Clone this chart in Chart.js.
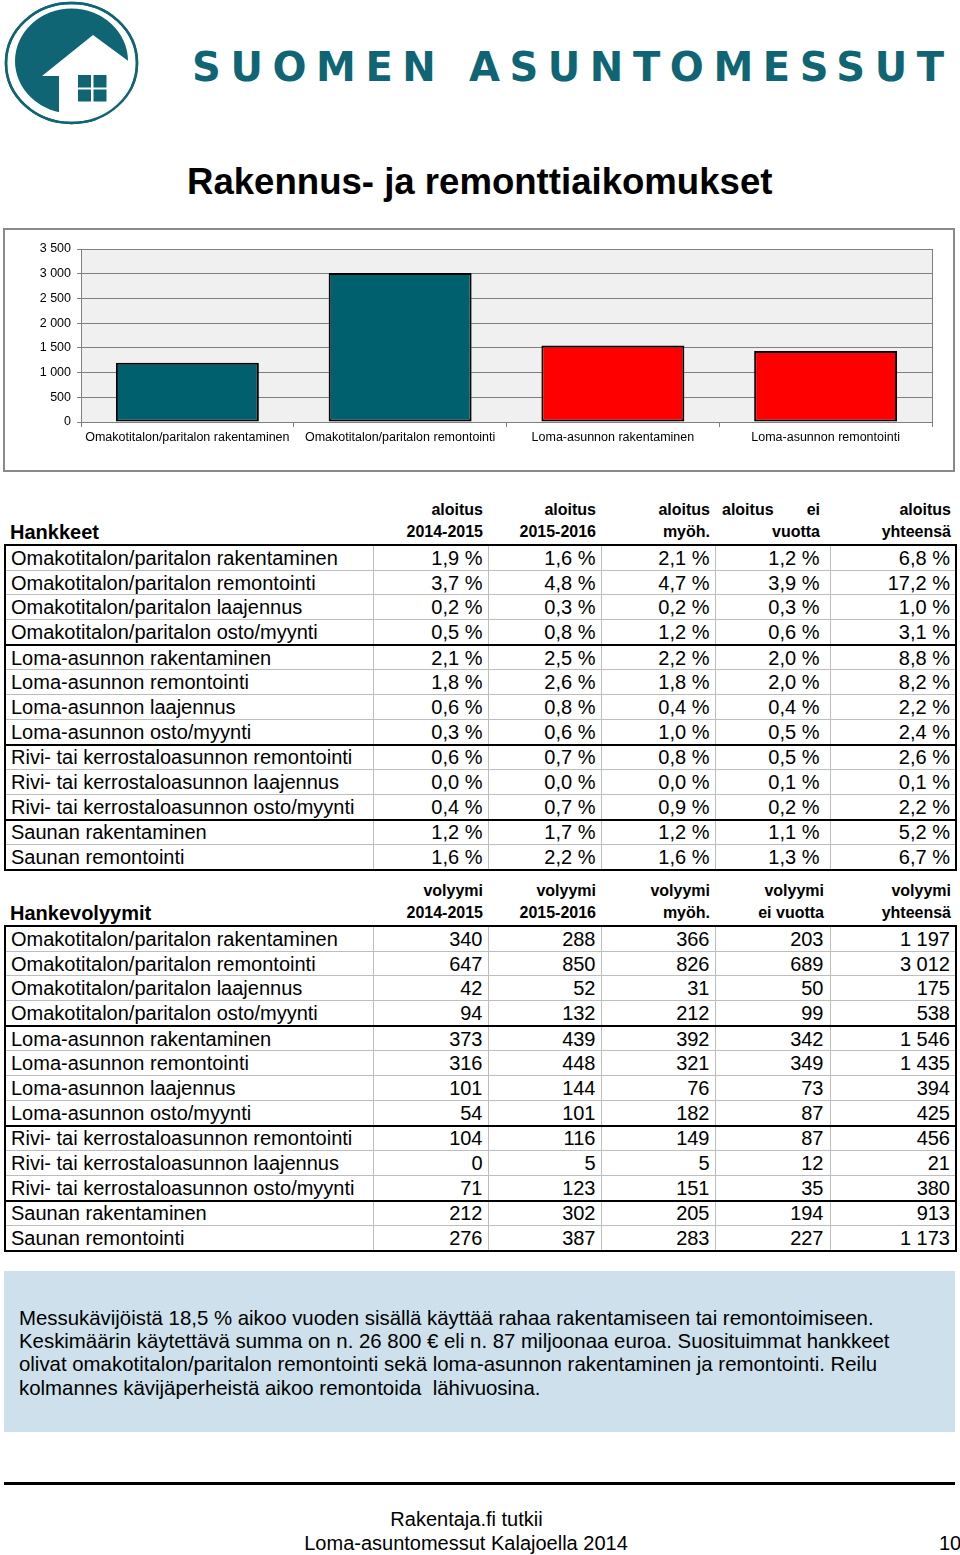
<!DOCTYPE html>
<html lang="fi">
<head>
<meta charset="UTF-8">
<title>Rakennus- ja remonttiaikomukset</title>
<script src="https://cdn.jsdelivr.net/npm/chart.js"></script>
<style>
    body {
        margin: 0;
        width: 960px;
        height: 1555px;
        position: relative;
        overflow: hidden;
        background: #fff;
        color: #000;
        font-family: 'Liberation Sans', Arial, sans-serif;
    }
    .abs { position: absolute; white-space: nowrap; }
    #title { left: 187px; top: 164px; font-size: 36.6px; font-weight: bold; line-height: 1; }
    #chartBox {
        position: absolute; left: 3px; top: 228px;
        width: 948px; height: 240px;
        border: 2px solid #8a8a8a;
    }
    table.data {
        position: absolute; left: 4px;
        border-collapse: collapse; table-layout: fixed;
        width: 951px;
    }
    table.data th {
        font-size: 16px; font-weight: bold; line-height: 22px;
        text-align: right; vertical-align: bottom;
        padding: 0 5px 1px 0; height: 39px;
    }
    table.data th.name { text-align: left; font-size: 20px; padding-left: 5px; }
    table.data td {
        font-size: 20px; line-height: 20px; height: 23.7px;
        padding: 0 5px 0 0; text-align: right;
        border: 1px solid #bdbdbd; white-space: nowrap;
    }
    table.data td.name { text-align: left; padding-left: 5px; }
    table.data tbody tr:first-child td { border-top: 2px solid #000; }
    table.data tbody tr:last-child td { border-bottom: 2px solid #000; }
    table.data tbody tr.groupEnd td { border-bottom: 2px solid #000; }
    table.data td:first-child { border-left: 2px solid #000; }
    table.data td:last-child { border-right: 2px solid #000; }
    #t1 { top: 499px; }
    #t2 { top: 880px; }
    #t1 td.c4, #t1 th.c4 { padding-right: 10px; }
    #t2 td.c4, #t2 th.c4 { padding-right: 6px; }
    th .split { display: flex; justify-content: space-between; padding-left: 7px; }
    #infoBox {
        position: absolute; left: 4px; top: 1271px;
        width: 936px; height: 125px;
        background: #cde0eb;
        padding: 36px 0 0 15px;
        font-size: 20.4px; line-height: 23.2px;
        white-space: nowrap;
    }
    #rule { position: absolute; left: 4px; top: 1482px; width: 951px; height: 3px; background: #000; }
    .foot { font-size: 20px; line-height: 1; }
</style>
</head>
<body>

<svg class="abs" style="left:0;top:0" width="960" height="130">
    <ellipse cx="71.5" cy="63" rx="65.5" ry="60" fill="none" stroke="#0f6573" stroke-width="2.5"/>
    <ellipse cx="71.5" cy="61" rx="56.5" ry="52.5" fill="#0f6573"/>
    <polygon points="42,76 93,35 131,63 131,120 59,120 59,76" fill="#fff"/>
    <ellipse cx="71.5" cy="63" rx="65.5" ry="60" fill="none" stroke="#0f6573" stroke-width="2.5"/>
    <rect x="78" y="75" width="13" height="12.5" fill="#0f6573"/>
    <rect x="93.5" y="75" width="13" height="12.5" fill="#0f6573"/>
    <rect x="78" y="89.5" width="13" height="12" fill="#0f6573"/>
    <rect x="93.5" y="89.5" width="13" height="12" fill="#0f6573"/>
    <text x="192" y="81" textLength="752" lengthAdjust="spacing"
          font-family="DejaVu Sans" font-weight="bold" font-size="40" fill="#0f6573">SUOMEN ASUNTOMESSUT</text>
</svg>

<div id="title" class="abs">Rakennus- ja remonttiaikomukset</div>

<div id="chartBox"><canvas id="volChart" width="948" height="240"></canvas></div>

<table id="t1" class="data"></table>
<table id="t2" class="data"></table>

<div id="infoBox">Messukävijöistä 18,5 % aikoo vuoden sisällä käyttää rahaa rakentamiseen tai remontoimiseen.<br>Keskimäärin käytettävä summa on n. 26 800 € eli n. 87 miljoonaa euroa. Suosituimmat hankkeet<br>olivat omakotitalon/paritalon remontointi sekä loma-asunnon rakentaminen ja remontointi. Reilu<br>kolmannes kävijäperheistä aikoo remontoida&nbsp; lähivuosina.</div>

<div id="rule"></div>
<div class="abs foot" style="left:0;width:933px;text-align:center;top:1509px">Rakentaja.fi tutkii</div>
<div class="abs foot" style="left:0;width:932px;text-align:center;top:1533px">Loma-asuntomessut Kalajoella 2014</div>
<div class="abs foot" style="left:939px;top:1533px">10</div>

<script>
    // kaavion tiedot
    const chartLabels = ['Omakotitalon/paritalon rakentaminen', 'Omakotitalon/paritalon remontointi',
                         'Loma-asunnon rakentaminen', 'Loma-asunnon remontointi'];
    const chartValues = [1197, 3012, 1546, 1435];
    const yTicks = [0, 500, 1000, 1500, 2000, 2500, 3000, 3500];

    // taulukoiden rivit
    const rowLabels = [
        'Omakotitalon/paritalon rakentaminen', 'Omakotitalon/paritalon remontointi',
        'Omakotitalon/paritalon laajennus', 'Omakotitalon/paritalon osto/myynti',
        'Loma-asunnon rakentaminen', 'Loma-asunnon remontointi',
        'Loma-asunnon laajennus', 'Loma-asunnon osto/myynti',
        'Rivi- tai kerrostaloasunnon remontointi', 'Rivi- tai kerrostaloasunnon laajennus',
        'Rivi- tai kerrostaloasunnon osto/myynti', 'Saunan rakentaminen', 'Saunan remontointi'
    ];
    const groupEnds = [3, 7, 10];

    // Hankkeet (%)
    const pct1415  = [1.9, 3.7, 0.2, 0.5, 2.1, 1.8, 0.6, 0.3, 0.6, 0.0, 0.4, 1.2, 1.6];
    const pct1516  = [1.6, 4.8, 0.3, 0.8, 2.5, 2.6, 0.8, 0.6, 0.7, 0.0, 0.7, 1.7, 2.2];
    const pctLater = [2.1, 4.7, 0.2, 1.2, 2.2, 1.8, 0.4, 1.0, 0.8, 0.0, 0.9, 1.2, 1.6];
    const pctNoYr  = [1.2, 3.9, 0.3, 0.6, 2.0, 2.0, 0.4, 0.5, 0.5, 0.1, 0.2, 1.1, 1.3];
    const pctTotal = [6.8, 17.2, 1.0, 3.1, 8.8, 8.2, 2.2, 2.4, 2.6, 0.1, 2.2, 5.2, 6.7];

    // Hankevolyymit
    const vol1415  = [340, 647, 42, 94, 373, 316, 101, 54, 104, 0, 71, 212, 276];
    const vol1516  = [288, 850, 52, 132, 439, 448, 144, 101, 116, 5, 123, 302, 387];
    const volLater = [366, 826, 31, 212, 392, 321, 76, 182, 149, 5, 151, 205, 283];
    const volNoYr  = [203, 689, 50, 99, 342, 349, 73, 87, 87, 12, 35, 194, 227];
    const volTotal = [1197, 3012, 175, 538, 1546, 1435, 394, 425, 456, 21, 380, 913, 1173];

    const pctHeads = [['aloitus', '2014-2015'], ['aloitus', '2015-2016'], ['aloitus', 'myöh.'],
                      ['aloitus|ei', 'vuotta'], ['aloitus', 'yhteensä']];
    const volHeads = [['volyymi', '2014-2015'], ['volyymi', '2015-2016'], ['volyymi', 'myöh.'],
                      ['volyymi', 'ei vuotta'], ['volyymi', 'yhteensä']];

    function fmtThousands(v) {
        return String(v).replace(/\B(?=(\d{3})+(?!\d))/g, ' ');
    }
    function fmtPct(v) {
        return v.toFixed(1).replace('.', ',') + ' %';
    }

    function buildTable(id, title, heads, columns, fmt) {
        const widths = [368, 115, 113, 114, 115, 126];
        let html = '<colgroup>' + widths.map(w => `<col style="width:${w}px">`).join('') + '</colgroup>';
        html += `<thead><tr><th class="name">${title}</th>`;
        heads.forEach((h, i) => {
            let top = h[0];
            if (top.includes('|')) {
                const parts = top.split('|');
                top = `<div class="split"><span>${parts[0]}</span><span>${parts[1]}</span></div>`;
            } else {
                top = top + '<br>';
            }
            html += `<th class="c${i + 1}">${top}${h[1]}</th>`;
        });
        html += '</tr></thead><tbody>';
        rowLabels.forEach((label, r) => {
            html += `<tr${groupEnds.includes(r) ? ' class="groupEnd"' : ''}><td class="name">${label}</td>`;
            columns.forEach((col, c) => {
                html += `<td class="c${c + 1}">${fmt(col[r])}</td>`;
            });
            html += '</tr>';
        });
        html += '</tbody>';
        document.getElementById(id).innerHTML = html;
    }

    buildTable('t1', 'Hankkeet', pctHeads, [pct1415, pct1516, pctLater, pctNoYr, pctTotal], fmtPct);
    buildTable('t2', 'Hankevolyymit', volHeads, [vol1415, vol1516, volLater, volNoYr, volTotal], fmtThousands);

    // harmaa piirtoalue ja oikea reuna
    const plotArea = {
        id: 'plotArea',
        beforeDraw(chart) {
            const { ctx, chartArea: a } = chart;
            ctx.save();
            ctx.fillStyle = '#f0f0f0';
            ctx.fillRect(a.left, a.top, a.right - a.left, a.bottom - a.top);
            ctx.restore();
        },
        afterDraw(chart) {
            const { ctx, chartArea: a } = chart;
            ctx.save();
            ctx.strokeStyle = '#7f7f7f';
            ctx.lineWidth = 1;
            ctx.beginPath();
            ctx.moveTo(a.right + 0.5, a.top);
            ctx.lineTo(a.right + 0.5, a.bottom);
            ctx.stroke();
            ctx.restore();
        }
    };

    Chart.defaults.font.family = "'Liberation Sans', Arial, sans-serif";
    Chart.defaults.font.size = 12.5;
    Chart.defaults.color = '#000';

    new Chart(document.getElementById('volChart').getContext('2d'), {
        type: 'bar',
        data: {
            labels: chartLabels,
            datasets: [{
                data: chartValues,
                backgroundColor: ['#00606e', '#00606e', '#ff0000', '#ff0000'],
                borderColor: '#000',
                borderWidth: 2,
                borderSkipped: false,
                barPercentage: 1,
                categoryPercentage: 0.672
            }]
        },
        options: {
            responsive: false,
            animation: false,
            layout: { padding: { top: 19, right: 21, left: 0, bottom: 18 } },
            plugins: { legend: { display: false }, tooltip: { enabled: false } },
            scales: {
                x: {
                    grid: { offset: true, drawOnChartArea: false, tickLength: 5, color: '#7f7f7f' },
                    border: { color: '#7f7f7f' },
                    ticks: { padding: 3, maxRotation: 0, autoSkip: false },
                    afterFit(scale) { scale.height = 30; }
                },
                y: {
                    min: yTicks[0],
                    max: yTicks[yTicks.length - 1],
                    afterBuildTicks(scale) { scale.ticks = yTicks.map(v => ({ value: v })); },
                    grid: { color: '#7f7f7f', tickLength: 4 },
                    border: { color: '#7f7f7f' },
                    ticks: { padding: 6, callback: v => fmtThousands(v) },
                    afterFit(scale) { scale.width = 76; }
                }
            }
        },
        plugins: [plotArea]
    });
</script>
</body>
</html>
